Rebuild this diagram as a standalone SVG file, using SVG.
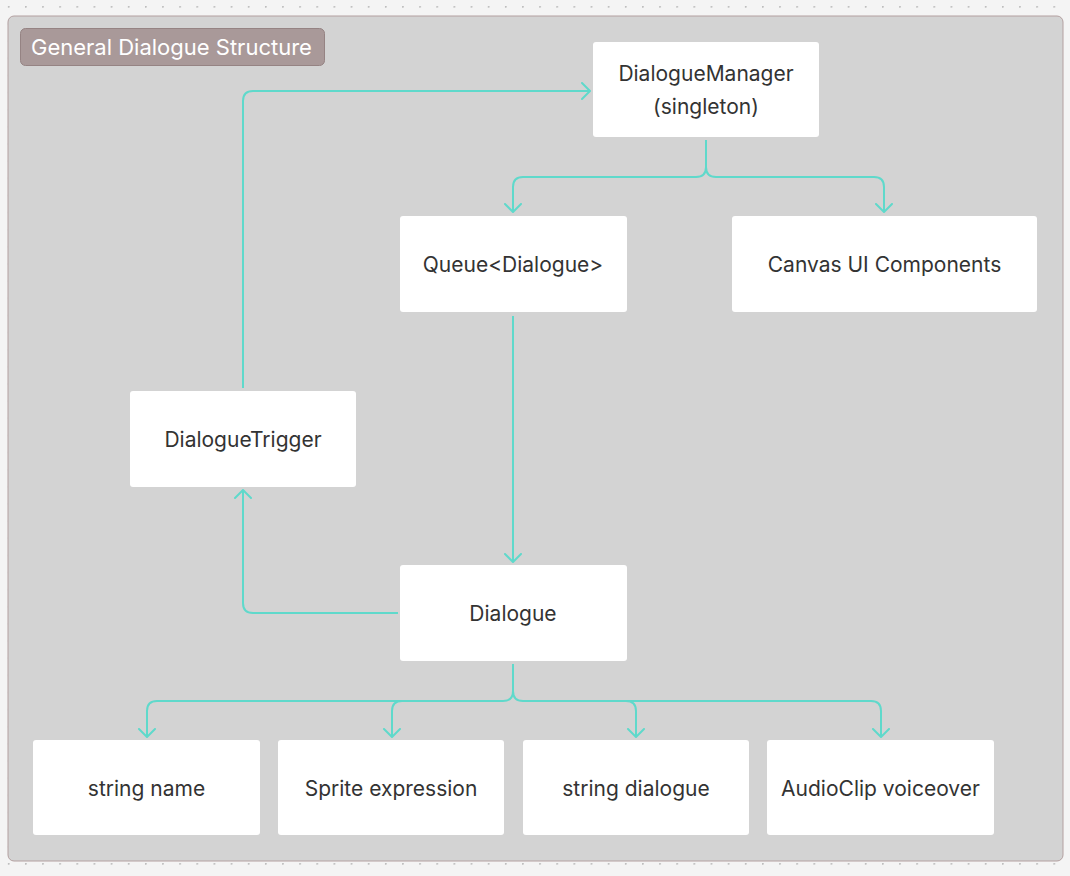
<svg xmlns="http://www.w3.org/2000/svg" width="1070" height="876" viewBox="0 0 1070 876">
<defs>
<pattern id="dots" x="25" y="6" width="17.14" height="17.14" patternUnits="userSpaceOnUse">
<circle cx="0.8" cy="0.8" r="1" fill="#bdbdbd"/>
</pattern>
<marker id="arr" viewBox="0 0 10 20" markerWidth="10" markerHeight="20" refX="9" refY="10" orient="auto" markerUnits="userSpaceOnUse">
<path d="M1,2 L9,10 L1,18" fill="none" stroke="#5fd9cb" stroke-width="2" stroke-linecap="round" stroke-linejoin="round"/>
</marker>
<style>
.node rect{fill:#ffffff;}
.node text{font-family:Inter,"Noto Sans","Liberation Sans",sans-serif;font-size:21px;fill:#333333;text-anchor:middle;}
.conn path{fill:none;stroke:#5fd9cb;stroke-width:2;marker-end:url(#arr);}
</style>
</defs>
<rect width="1070" height="876" fill="#f4f4f4"/>
<rect x="-1" y="-1" width="1072" height="878" fill="url(#dots)"/>
<g id="frame">
<rect x="8" y="16" width="1055" height="845" rx="6" fill="#d3d3d3" stroke="#b3a0a0" stroke-width="1"/>
<rect x="20.5" y="28.5" width="304" height="37" rx="5" fill="#a99999" stroke="#958383" stroke-width="1"/>
<text x="31" y="55" style="font-family:Inter,'Noto Sans','Liberation Sans',sans-serif;font-size:22px;fill:#ffffff">General Dialogue Structure</text>
</g>
<g class="conn" id="connectors">
<path d="M706,140 V167 Q706,177 696,177 H523 Q513,177 513,187 V212"/>
<path d="M706,167 Q706,177 716,177 H874 Q884,177 884,187 V212"/>
<path d="M513,316 V562"/>
<path d="M398,613 H253 Q243,613 243,603 V490"/>
<path d="M243,388 V101 Q243,91 253,91 H590"/>
<path d="M513,664 V691 Q513,701 503,701 H157 Q147,701 147,711 V737"/>
<path d="M402,701 Q392,701 392,711 V737"/>
<path d="M513,691 Q513,701 523,701 H871 Q881,701 881,711 V737"/>
<path d="M626,701 Q636,701 636,711 V737"/>
</g>
<g class="node" id="n-manager"><rect x="593" y="42" width="226" height="95" rx="3"/><text x="706" y="81">DialogueManager</text><text x="706" y="114">(singleton)</text></g>
<g class="node" id="n-queue"><rect x="400" y="216" width="227" height="96" rx="3"/><text x="513" y="272">Queue&lt;Dialogue&gt;</text></g>
<g class="node" id="n-canvas"><rect x="732" y="216" width="305" height="96" rx="3"/><text x="884.5" y="272">Canvas UI Components</text></g>
<g class="node" id="n-trigger"><rect x="130" y="391" width="226" height="96" rx="3"/><text x="243" y="447">DialogueTrigger</text></g>
<g class="node" id="n-dialogue"><rect x="400" y="565" width="227" height="96" rx="3"/><text x="513" y="621">Dialogue</text></g>
<g class="node" id="n-name"><rect x="33" y="740" width="227" height="95" rx="3"/><text x="146.5" y="796">string name</text></g>
<g class="node" id="n-sprite"><rect x="278" y="740" width="226" height="95" rx="3"/><text x="391" y="796">Sprite expression</text></g>
<g class="node" id="n-string"><rect x="523" y="740" width="226" height="95" rx="3"/><text x="636" y="796">string dialogue</text></g>
<g class="node" id="n-audio"><rect x="767" y="740" width="227" height="95" rx="3"/><text x="880.5" y="796">AudioClip voiceover</text></g>
</svg>
